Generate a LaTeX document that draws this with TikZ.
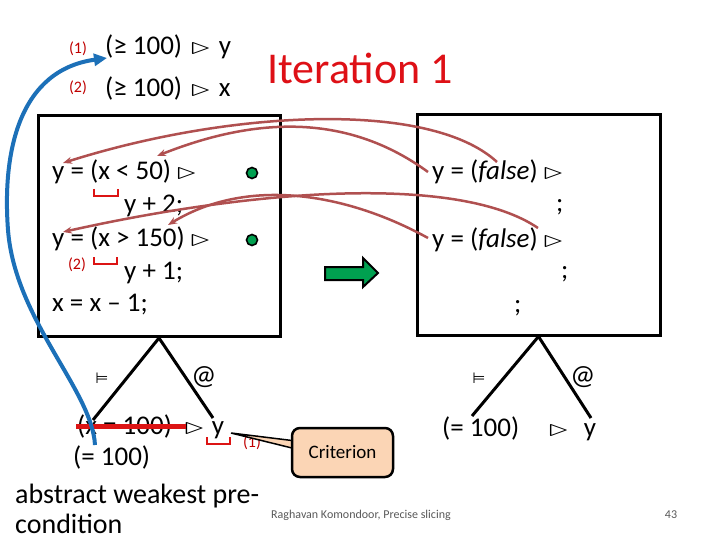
\RequirePackage{fix-cm}
\documentclass[tikz,border=0pt]{standalone}
\usepackage{graphicx}
\usepackage{fontspec}
\setmainfont{Carlito}
\newfontfamily\dejavu{DejaVu Sans}
\usetikzlibrary{arrows.meta}
\definecolor{titlered}{RGB}{222,16,22}
\definecolor{labred}{RGB}{192,0,0}
\definecolor{brred}{RGB}{220,20,20}
\definecolor{arrred}{RGB}{176,80,80}
\definecolor{dotgreen}{RGB}{0,160,80}
\definecolor{peach}{RGB}{251,213,181}
\definecolor{bluec}{RGB}{28,112,184}
\definecolor{footgray}{RGB}{89,89,89}
\newcommand{\tri}{\scalebox{1.6}[1]{\fontsize{24}{24}\selectfont$\triangleright$}}
\begin{document}
\begin{tikzpicture}[x=1pt,y=-1pt,
  code/.style={font=\fontsize{27}{30}\selectfont,inner sep=0pt,anchor=west},
  lab/.style={font=\fontsize{16}{18}\selectfont,text=labred,inner sep=0pt},
  box/.style={draw,line width=3pt,inner sep=0pt},
  dot/.style={circle,fill=dotgreen,draw=black,line width=1.6pt,minimum size=11pt,inner sep=0pt},
  redarr/.style={draw=arrred,line width=2.5pt,-{Stealth[length=9pt,width=7pt]}},
  tree/.style={draw=black,line width=3pt},
  bracket/.style={draw=brred,line width=2.5pt},
  small/.style={inner sep=0pt,font=\dejavu\fontsize{15}{15}\selectfont},
  atl/.style={inner sep=0pt,font=\fontsize{28}{28}\selectfont},
  foot/.style={inner sep=0pt,text=footgray,font=\fontsize{12}{12}\selectfont}]
\useasboundingbox (0,0) rectangle (720,540);
\fill[white] (0,0) rectangle (720,540);

% title and top precondition
\node[inner sep=0pt,text=titlered,font=\fontsize{44}{44}\selectfont] (title) at (360,68) {Iteration 1};
\node[lab] (L1) at (78,49) {(1)};
\node[code] (T1) at (105,47) {(≥ 100)\hspace{9pt}\tri\hspace{9pt}y};
\node[lab] (L2) at (78,88) {(2)};
\node[code] (T2) at (105,88) {(≥ 100)\hspace{9pt}\tri\hspace{9pt}x};

% boxes
\node[box,minimum width=242pt,minimum height=221pt] (lbox) at (159,226) {};
\node[box,minimum width=243pt,minimum height=220pt] (rbox) at (538.5,225) {};

% left box content
\node[code] (a1) at (52,172) {y = (x < 50)\hspace{6pt}\tri};
\node[code] (a2) at (124,206) {y + 2;};
\node[code] (a3) at (52,239) {y = (x > 150)\hspace{6pt}\tri};
\node[lab] (L3) at (77,265) {(2)};
\node[code] (a4) at (124,273) {y + 1;};
\node[code] (a5) at (52,305) {x = x – 1;};
\node[dot] (g1) at (252,173) {};
\node[dot] (g2) at (252,240) {};
\draw[bracket] (94,189) -- (94,196) -- (118,196) -- (118,189);
\draw[bracket] (94,257) -- (94,264) -- (117,264) -- (117,257);

% right box content
\node[code] (b1) at (432,172) {y = (\textit{false})\hspace{6pt}\tri};
\node[code] (b2) at (556,207) {;};
\node[code] (b3) at (432,240) {y = (\textit{false})\hspace{6pt}\tri};
\node[code] (b4) at (561,274) {;};
\node[code] (b5) at (514,308) {;};

% green arrow
\filldraw[fill=dotgreen,draw=black,line width=2pt,line join=miter]
  (325,267) -- (363,267) -- (363,258) -- (378,273) -- (363,287) -- (363,280) -- (325,280) -- cycle;

% red arrows
\coordinate (Ay) at (428,172); \coordinate (Ax) at (157,156);
\coordinate (Bf) at (497,162); \coordinate (By) at (63,163);
\coordinate (Cy) at (428,238); \coordinate (Cx) at (168,225);
\coordinate (Df) at (538,228); \coordinate (Dy) at (63,232);
\draw[redarr] (Ay) .. controls (350,115) and (260,115) .. (Ax);
\draw[redarr] (Bf) .. controls (430,100) and (230,110) .. (By);
\draw[redarr] (Cy) .. controls (350,195) and (250,175) .. (Cx);
\draw[redarr] (Df) .. controls (460,175) and (260,188) .. (Dy);

% left tree
\coordinate (lt1) at (93,420); \coordinate (lt2) at (213,418);
\draw[tree] (lbox.south) -- (lt1);
\draw[tree] (lbox.south) -- (lt2);
\node[small] (m1) at (102,378) {⊨};
\node[atl] (at1) at (204,377) {@};
\node[code] (s1) at (77,427) {(x = 100)\hspace{13pt}\tri\hspace{8pt}y};
\draw[draw=brred,line width=5pt] (76,426) -- (186,426);
\draw[bracket] (207,437) -- (207,444) -- (230,444) -- (230,437);
\node[code] (s2) at (73,457) {(= 100)};
\node[inner sep=0pt,anchor=west,font=\fontsize{28}{30}\selectfont] (abs1) at (15,496) {abstract weakest pre-};
\node[inner sep=0pt,anchor=west,font=\fontsize{28}{30}\selectfont] (abs2) at (15,524) {condition};

% criterion callout
\node[lab] (L4) at (252,443) {(1)};
\coordinate (ctip) at (231,433);
\filldraw[fill=peach,draw=black,line width=1.5pt] (ctip) -- (296,441) -- (296,449) -- cycle;
\node[draw,line width=2.5pt,fill=peach,rounded corners=8pt,minimum width=101pt,minimum height=49pt,inner sep=0pt,font=\fontsize{19}{20}\selectfont] (crit) at (342.5,452.5) {Criterion};

% right tree
\coordinate (rt1) at (472,416); \coordinate (rt2) at (591,418);
\draw[tree] (rbox.south) -- (rt1);
\draw[tree] (rbox.south) -- (rt2);
\node[small] (m2) at (479,378) {⊨};
\node[atl] (at2) at (583,377) {@};
\node[code] (r1) at (442,429) {(= 100)\hspace{30pt}\tri\hspace{16pt}y};

% blue arrow
\coordinate (bs) at (95,445); \coordinate (be) at (107,58);
\draw[draw=bluec,line width=4pt,-{Triangle[length=13pt,width=12pt]}]
  (bs) .. controls (92,390) and (15,320) .. (8,230) .. controls (2,150) and (20,70) .. (be);

% footer
\node[foot] (ft) at (361,515) {Raghavan Komondoor, Precise slicing};
\node[foot] (pg) at (671,515) {43};
\end{tikzpicture}
\end{document}
